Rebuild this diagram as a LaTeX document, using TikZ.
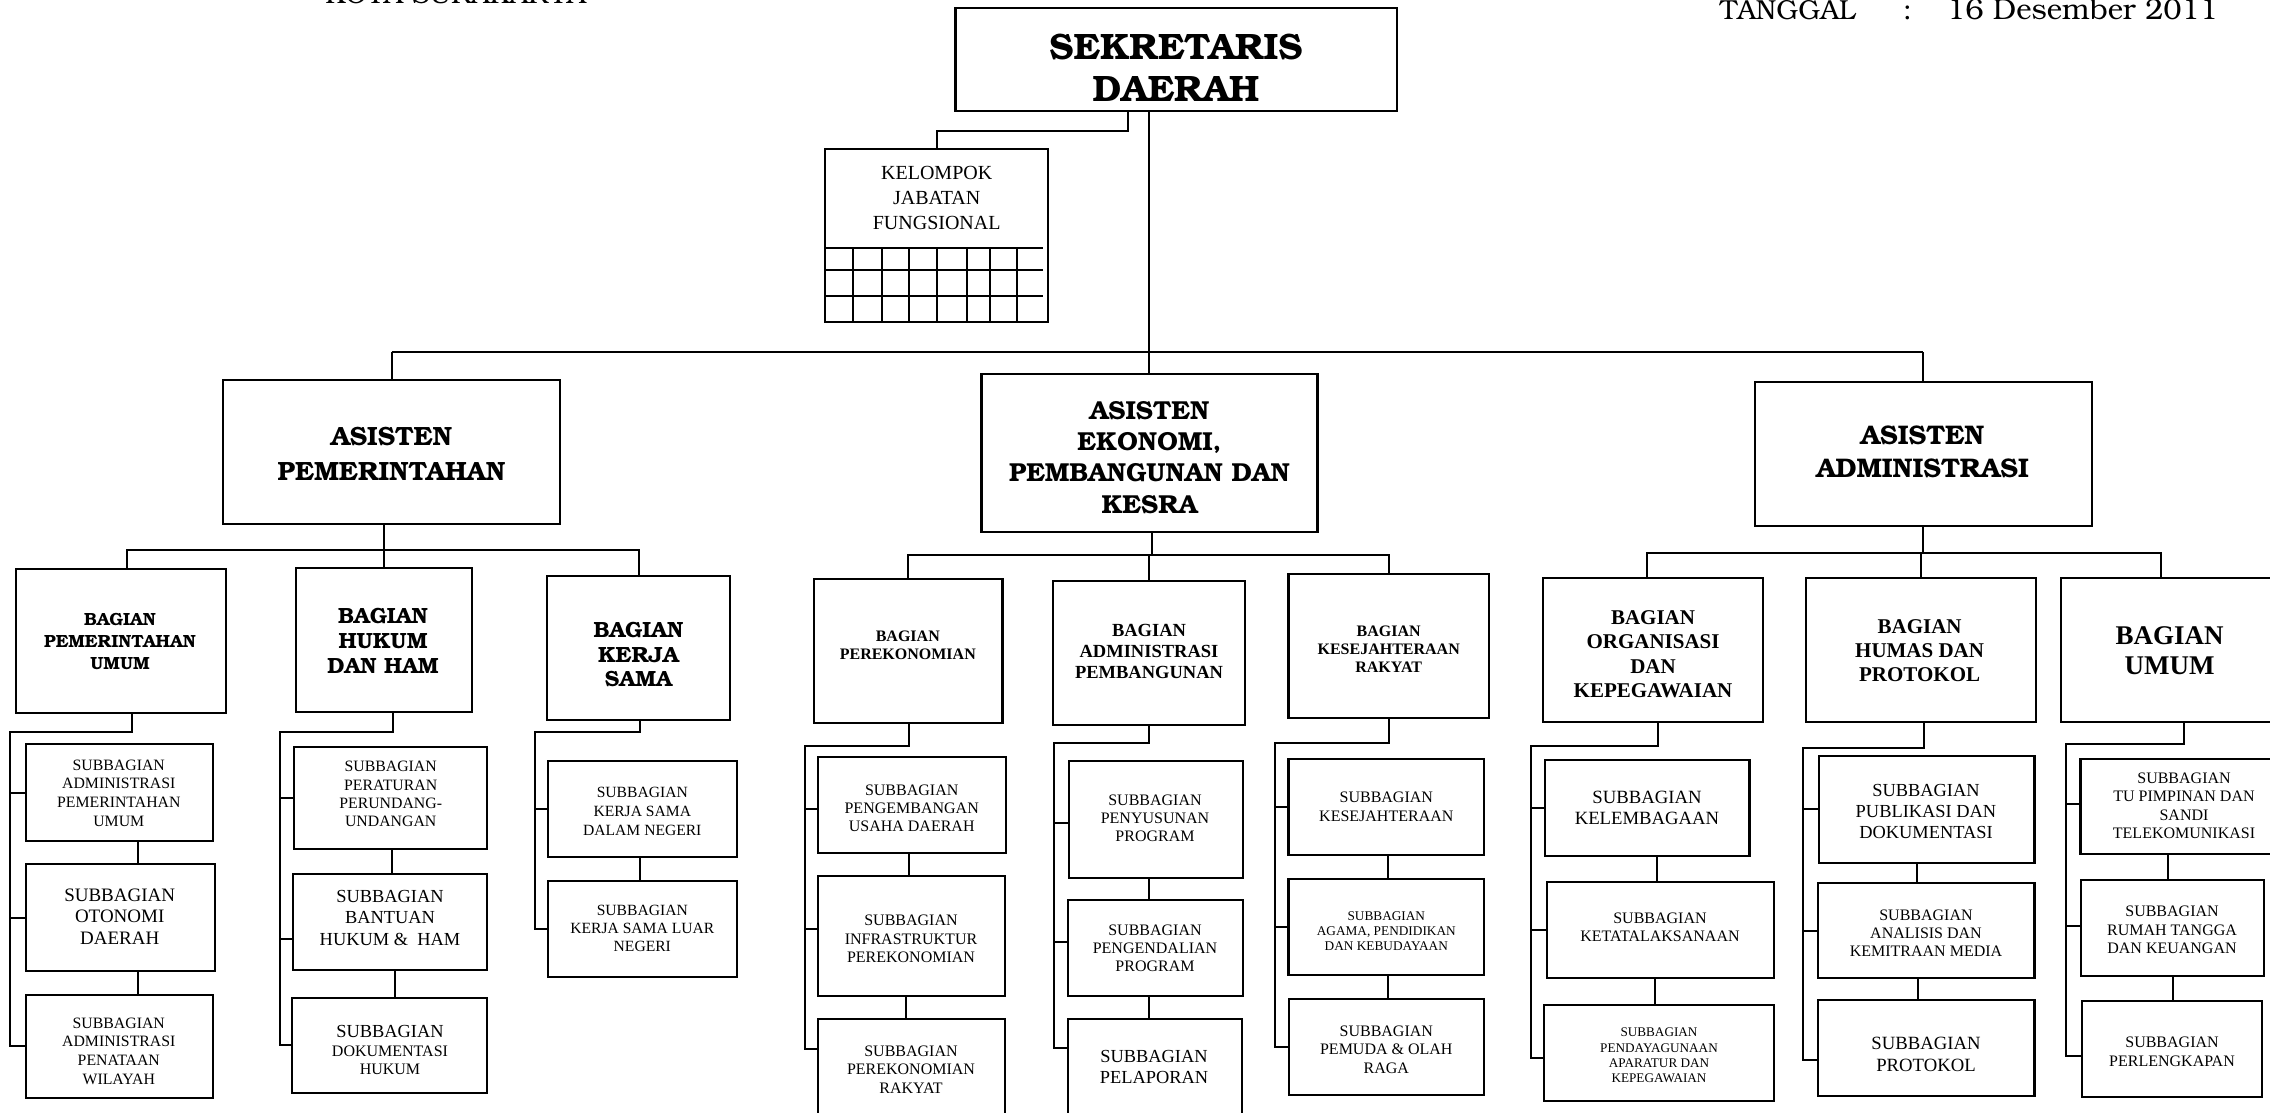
\documentclass[tikz,border=0pt]{standalone}
\usepackage[T1]{fontenc}
\usepackage{fontspec}
\setmainfont{Liberation Serif}
\newcommand\bkb{\fontencoding{T1}\fontfamily{pbk}\fontseries{b}\fontshape{n}\selectfont}
\newcommand\bkm{\fontencoding{T1}\fontfamily{pbk}\fontseries{m}\fontshape{n}\selectfont}
\newcommand\fs[2]{\fontsize{#1}{#2}\selectfont}
\tikzset{
  bx/.style={draw, rectangle, line width=2.2pt, inner sep=0pt, outer sep=0pt},
  ln/.style={line width=2pt},
  grid/.style={line width=2pt},
  tx/.style={align=center, inner sep=0pt, outer sep=0pt, anchor=center},
}
\newcommand\bxn[5]{\node[bx, minimum width={#4-#2}, minimum height={#5-#3}] (#1) at ({(#2+#4)/2},{(#3+#5)/2}) {};}
\newcommand\tn[5]{\node[tx, font=#4] (#1) at (#2,#3) {#5};}
\begin{document}
\begin{tikzpicture}[x=1pt,y=-1pt]
\useasboundingbox (0,0) rectangle (2270,1113);
\clip (0,0) rectangle (2270,1113);
\fill[white] (0,0) rectangle (2270,1113);

% header texts
\node[anchor=base, inner sep=0pt, font={\bkm\fs{27.5}{30}}] (kota) at (455.5,3.3) {KOTA SURAKARTA};
\node[anchor=base west, inner sep=0pt, font={\bkm\fs{27.5}{30}}] (tgl) at (1720,19.6) {TANGGAL};
\node[anchor=base, inner sep=0pt, font={\bkm\fs{27.5}{30}}] (tglc) at (1907.6,19.6) {:};
\node[anchor=base west, inner sep=0pt, font={\bkm\fs{29.3}{30}}] (tgld) at (1947,19.6) {16 Desember 2011};

% top level
\bxn{sekda}{955.5}{8.3}{1397}{111}
\tn{sekdat}{1176}{67.5}{\bkb\fs{36.7}{41.6}}{SEKRETARIS\\DAERAH}
\bxn{kjf}{825.2}{149}{1048.2}{322}
\tn{kjft}{936.7}{198}{\fs{20}{24.7}}{KELOMPOK\\JABATAN\\FUNGSIONAL}
\foreach \y in {248.3,270,295.7} \draw[grid] (825.2,\y) -- (1043,\y);
\foreach \x in {852.7,882.4,909.2,936.7,967,990.2,1017} \draw[grid] (\x,248.3) -- (\x,322);
\coordinate (kb) at (1127.8,131);
\draw[ln] (sekda.south -| kb) -- (kb) -| (kjf.north);

% asisten
\bxn{ap}{223}{380}{560}{524}
\tn{apt}{391.5}{453.5}{\bkb\fs{26.4}{35}}{ASISTEN\\PEMERINTAHAN}
\bxn{ae}{981.5}{374}{1317.4}{532.3}
\tn{aet}{1149.5}{457.2}{\bkb\fs{26}{31.4}}{ASISTEN\\EKONOMI,\\PEMBANGUNAN DAN\\KESRA}
\bxn{aa}{1754.8}{381.7}{2091.7}{525.7}
\tn{aat}{1922.5}{451.7}{\bkb\fs{26.9}{33.3}}{ASISTEN\\ADMINISTRASI}

\draw[ln] (sekda.south -| ae.north) -- (ae.north);
\draw[line width=2.4pt] (ap.north |- 0,352) -- (aa.north |- 0,352);
\draw[ln] (ap.north |- 0,352) -- (ap.north);
\draw[ln] (aa.north |- 0,352) -- (aa.north);

% bagian boxes
\bxn{bpu}{16}{569}{226}{713}
\tn{bput}{120}{641}{\bkb\fs{17.6}{22}}{BAGIAN\\PEMERINTAHAN\\UMUM}
\bxn{bh}{296}{567.7}{472}{711.7}
\tn{bht}{383}{641}{\bkb\fs{22}{25}}{BAGIAN\\HUKUM\\DAN HAM}
\bxn{bks}{547}{575.7}{730}{720}
\tn{bkst}{638.4}{654.5}{\bkb\fs{22}{24.5}}{BAGIAN\\KERJA\\SAMA}
\bxn{bpe}{814.3}{579}{1002.4}{722.7}
\tn{bpet}{907.8}{645}{\bfseries\fs{16}{18}}{BAGIAN\\PEREKONOMIAN}
\bxn{bap}{1052.8}{580.7}{1245.2}{725}
\tn{bapt}{1149}{651.4}{\bfseries\fs{18.5}{21.3}}{BAGIAN\\ADMINISTRASI\\PEMBANGUNAN}
\bxn{bkr}{1288.4}{574}{1489}{717.7}
\tn{bkrt}{1388.7}{649}{\bfseries\fs{16}{18.3}}{BAGIAN\\KESEJAHTERAAN\\RAKYAT}
\bxn{bo}{1543}{577.7}{1763}{721.7}
\tn{bot}{1653}{654.4}{\bfseries\fs{21}{24.4}}{BAGIAN\\ORGANISASI\\DAN\\KEPEGAWAIAN}
\bxn{bhp}{1805.7}{578.3}{2036}{721.7}
\tn{bhpt}{1919.6}{650.9}{\bfseries\fs{21}{24.2}}{BAGIAN\\HUMAS DAN\\PROTOKOL}
\bxn{bu}{2061}{578.3}{2290}{721.7}
\tn{but}{2169.5}{651}{\bfseries\fs{27}{30}}{BAGIAN\\UMUM}

% asisten -> bagian
\draw[ln] (ap.south -| 384.4,0) -- (384.4,550);
\draw[ln] (bpu.north -| 127,0) |- (bks.north |- 0,550) -- (bks.north);
\draw[ln] (bh.north) -- (bh.north |- 0,550);
\draw[ln] (ae.south -| 1151.7,0) -- (1151.7,555);
\draw[ln] (bpe.north) |- (bkr.north |- 0,555) -- (bkr.north);
\draw[ln] (bap.north) -- (bap.north |- 0,555);
\draw[ln] (aa.south) -- (aa.south |- 0,553.3);
\draw[ln] (bo.north -| 1647.2,0) -- (1647.2,553.3) -- (2161,553.3) -- (bu.north -| 2161,0);
\draw[ln] (bhp.north) -- (bhp.north |- 0,553.3);

% subbagian boxes
\bxn{sa1}{25.7}{744}{213}{841}
\bxn{sa2}{25.7}{864}{215}{971}
\bxn{sa3}{25.7}{994.7}{213}{1098}
\bxn{sh1}{294}{746.7}{487}{849}
\bxn{sh2}{293}{874}{487}{970}
\bxn{sh3}{292}{997.7}{487}{1093}
\bxn{sk1}{547.7}{760.7}{736.8}{856.7}
\bxn{sk2}{547.7}{880.7}{736.8}{976.7}
\bxn{sp1}{818.2}{757.3}{1006.2}{853.3}
\bxn{sp2}{818}{876}{1005}{995.7}
\bxn{sp3}{818}{1019}{1005}{1135}
\bxn{sap1}{1068.8}{761.3}{1242.8}{877.7}
\bxn{sap2}{1067.8}{900}{1242.8}{996}
\bxn{sap3}{1067.8}{1019}{1242.3}{1135}
\bxn{sks1}{1288.4}{759}{1483.7}{855}
\bxn{sks2}{1288.4}{879}{1483.7}{975}
\bxn{sks3}{1289.3}{999}{1483.7}{1095}
\bxn{so1}{1545}{760.3}{1749.5}{856}
\bxn{so2}{1546.8}{882}{1774.2}{977.7}
\bxn{so3}{1544}{1005}{1774.2}{1101}
\bxn{shm1}{1818.8}{756}{2034.5}{862.7}
\bxn{shm2}{1817.8}{882.7}{2034.5}{978.3}
\bxn{shm3}{1817.8}{1000}{2034.5}{1096}
\bxn{su1}{2080.5}{759}{2290}{854}
\bxn{su2}{2081}{880}{2263.7}{975.7}
\bxn{su3}{2082}{1001}{2262.3}{1096.7}

% subbagian texts
\tn{sa1t}{118.8}{793}{\fs{15.8}{18.7}}{SUBBAGIAN\\ADMINISTRASI\\PEMERINTAHAN\\UMUM}
\tn{sa2t}{119.7}{916.5}{\fs{19}{21.5}}{SUBBAGIAN\\OTONOMI\\DAERAH}
\tn{sa3t}{118.8}{1051}{\fs{15.8}{18.7}}{SUBBAGIAN\\ADMINISTRASI\\PENATAAN\\WILAYAH}
\tn{sh1t}{390.7}{794.2}{\fs{15.8}{18.3}}{SUBBAGIAN\\PERATURAN\\PERUNDANG-\\UNDANGAN}
\tn{sh2t}{390}{917.5}{\fs{18.4}{21.5}}{SUBBAGIAN\\BANTUAN\\HUKUM \& \ HAM}
\tn{sh3t}{390}{1050.3}{\fs{16}{18.6}}{{\fs{18.4}{18.6}SUBBAGIAN}\\DOKUMENTASI\\HUKUM}
\tn{sk1t}{642.3}{811.3}{\fs{15.6}{18.7}}{SUBBAGIAN\\KERJA SAMA\\DALAM NEGERI}
\tn{sk2t}{642.3}{928.3}{\fs{15.6}{18.3}}{SUBBAGIAN\\KERJA SAMA LUAR\\NEGERI}
\tn{sp1t}{911.7}{808.3}{\fs{16}{18.3}}{SUBBAGIAN\\PENGEMBANGAN\\USAHA DAERAH}
\tn{sp2t}{911}{939}{\fs{16}{18.3}}{SUBBAGIAN\\INFRASTRUKTUR\\PEREKONOMIAN}
\tn{sp3t}{911}{1069.2}{\fs{16}{18.5}}{SUBBAGIAN\\PEREKONOMIAN\\RAKYAT}
\tn{sap1t}{1155}{818.3}{\fs{16}{18.3}}{SUBBAGIAN\\PENYUSUNAN\\PROGRAM}
\tn{sap2t}{1155}{948.3}{\fs{16}{18.3}}{SUBBAGIAN\\PENGENDALIAN\\PROGRAM}
\tn{sap3t}{1154}{1067.2}{\fs{18.4}{21}}{SUBBAGIAN\\PELAPORAN}
\tn{sks1t}{1386.3}{806.7}{\fs{16}{18.7}}{SUBBAGIAN\\KESEJAHTERAAN}
\tn{sks2t}{1386.3}{931.3}{\fs{13.3}{15.3}}{SUBBAGIAN\\AGAMA, PENDIDIKAN\\DAN KEBUDAYAAN}
\tn{sks3t}{1386.3}{1049.7}{\fs{16}{18.7}}{SUBBAGIAN\\PEMUDA \& OLAH\\RAGA}
\tn{so1t}{1647}{807.8}{\fs{18.7}{21}}{SUBBAGIAN\\KELEMBAGAAN}
\tn{so2t}{1660}{927.2}{\fs{16}{17.7}}{SUBBAGIAN\\KETATALAKSANAAN}
\tn{so3t}{1659}{1055.5}{\fs{13.2}{15.2}}{SUBBAGIAN\\PENDAYAGUNAAN\\APARATUR DAN\\KEPEGAWAIAN}
\tn{shm1t}{1926}{811.2}{\fs{18.4}{21}}{SUBBAGIAN\\PUBLIKASI DAN\\DOKUMENTASI}
\tn{shm2t}{1926}{933.3}{\fs{16}{18.3}}{SUBBAGIAN\\ANALISIS DAN\\KEMITRAAN MEDIA}
\tn{shm3t}{1926}{1054.2}{\fs{18.7}{21.7}}{SUBBAGIAN\\PROTOKOL}
\tn{su1t}{2184}{805.8}{\fs{16}{18.3}}{SUBBAGIAN\\TU PIMPINAN DAN\\SANDI\\TELEKOMUNIKASI}
\tn{su2t}{2172}{930}{\fs{16}{18.3}}{SUBBAGIAN\\RUMAH TANGGA\\DAN KEUANGAN}
\tn{su3t}{2172}{1052.2}{\fs{16}{19}}{SUBBAGIAN\\PERLENGKAPAN}

% bagian -> subbagian connectors
% pemerintahan umum
\draw[ln] (bpu.south -| 132,0) |- (9.7,732) |- (sa3.west);
\draw[ln] (sa1.west -| 9.7,0) -- (sa1.west);
\draw[ln] (sa2.west -| 9.7,0) -- (sa2.west);
\draw[ln] (sa1.south -| 138,0) -- (sa2.north -| 138,0);
\draw[ln] (sa2.south -| 138,0) -- (sa3.north -| 138,0);
% hukum
\draw[ln] (bh.south -| 392.6,0) |- (279.7,732) |- (sh3.west);
\draw[ln] (sh1.west -| 279.7,0) -- (sh1.west);
\draw[ln] (279.7,939) -- (sh2.west |- 0,939);
\draw[ln] (sh1.south -| 391.7,0) -- (sh2.north -| 391.7,0);
\draw[ln] (sh2.south -| 395,0) -- (sh3.north -| 395,0);
% kerja sama
\draw[ln] (bks.south -| 640,0) |- (534.7,732) |- (sk2.west);
\draw[ln] (sk1.west -| 534.7,0) -- (sk1.west);
\draw[ln] (sk1.south -| 640,0) -- (sk2.north -| 640,0);
% perekonomian
\draw[ln] (bpe.south -| 908.8,0) |- (805,745.7) |- (sp3.west |- 0,1049.3);
\draw[ln] (805,809) -- (sp1.west |- 0,809);
\draw[ln] (805,929.3) -- (sp2.west |- 0,929.3);
\draw[ln] (sp1.south -| 908.8,0) -- (sp2.north -| 908.8,0);
\draw[ln] (sp2.south -| 906,0) -- (sp3.north -| 906,0);
% administrasi pembangunan
\draw[ln] (bap.south -| 1149,0) |- (1054.2,743.3) |- (sap3.west |- 0,1047.7);
\draw[ln] (1054.2,822.7) -- (sap1.west |- 0,822.7);
\draw[ln] (1054.2,942.3) -- (sap2.west |- 0,942.3);
\draw[ln] (sap1.south -| 1149,0) -- (sap2.north -| 1149,0);
\draw[ln] (sap2.south -| 1149,0) -- (sap3.north -| 1149,0);
% kesejahteraan rakyat
\draw[ln] (bkr.south -| 1389,0) |- (1275.3,742.7) |- (sks3.west);
\draw[ln] (sks1.west -| 1275.3,0) -- (sks1.west);
\draw[ln] (sks2.west -| 1275.3,0) -- (sks2.west);
\draw[ln] (sks1.south -| 1388.2,0) -- (sks2.north -| 1388.2,0);
\draw[ln] (sks2.south -| 1388.2,0) -- (sks3.north -| 1388.2,0);
% organisasi
\draw[ln] (bo.south -| 1657.8,0) |- (1530.8,745.7) |- (so3.west |- 0,1058.3);
\draw[ln] (so1.west -| 1530.8,0) -- (so1.west);
\draw[ln] (so2.west -| 1530.8,0) -- (so2.west);
\draw[ln] (so1.south -| 1656.9,0) -- (so2.north -| 1656.9,0);
\draw[ln] (so2.south -| 1654.5,0) -- (so3.north -| 1654.5,0);
% humas
\draw[ln] (bhp.south -| 1923.5,0) |- (1803.3,747.7) |- (shm3.west |- 0,1060);
\draw[ln] (shm1.west -| 1803.3,0) -- (shm1.west);
\draw[ln] (shm2.west -| 1803.3,0) -- (shm2.west);
\draw[ln] (shm1.south -| 1917.2,0) -- (shm2.north -| 1917.2,0);
\draw[ln] (shm2.south -| 1918,0) -- (shm3.north -| 1918,0);
% umum
\draw[ln] (bu.south -| 2183.8,0) |- (2066,744.3) |- (su3.west |- 0,1055.7);
\draw[ln] (2066,804) -- (su1.west |- 0,804);
\draw[ln] (2066,926) -- (su2.west |- 0,926);
\draw[ln] (su1.south -| 2168.3,0) -- (su2.north -| 2168.3,0);
\draw[ln] (su2.south -| 2172.6,0) -- (su3.north -| 2172.6,0);
\end{tikzpicture}
\end{document}
